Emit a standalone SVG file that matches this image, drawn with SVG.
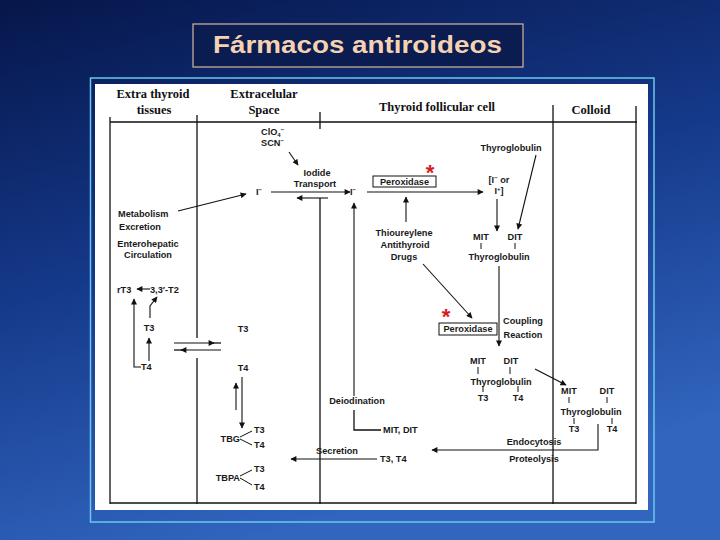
<svg xmlns="http://www.w3.org/2000/svg" width="720" height="540" viewBox="0 0 720 540">
<defs>
<linearGradient id="bg" x1="0" y1="0" x2="0.35" y2="1">
<stop offset="0" stop-color="#06164a"/>
<stop offset="0.5" stop-color="#15398a"/>
<stop offset="1" stop-color="#3165be"/>
</linearGradient>
<marker id="ah" viewBox="0 0 10 10" refX="9" refY="5" markerWidth="7" markerHeight="6" markerUnits="userSpaceOnUse" orient="auto">
<path d="M0,0 L10,5 L0,10 z" fill="#111"/>
</marker>
<style>
.s{font-family:"Liberation Sans",Arial,sans-serif;font-size:9.2px;font-weight:bold;fill:#1a1a1a}
.m{text-anchor:middle}
.h{font-family:"Liberation Serif","Times New Roman",serif;font-size:12.5px;font-weight:bold;fill:#111;text-anchor:middle}
.ln{stroke:#111;stroke-width:1.3;fill:none}
.ar{stroke:#111;stroke-width:1.1;fill:none;marker-end:url(#ah)}
.tk{stroke:#111;stroke-width:1;fill:none}
.st{font-family:"Liberation Sans",Arial,sans-serif;font-size:22px;font-weight:bold;fill:#d42020;text-anchor:middle}
.bx{fill:#fff;stroke:#111;stroke-width:1}
</style>
</defs>
<rect width="720" height="540" fill="url(#bg)"/>
<g id="title">
<rect x="193" y="24" width="330" height="43" fill="#0a1c50" stroke="#d6b69a" stroke-width="1.2"/>
<text x="213" y="53" font-family="Liberation Sans,Arial,sans-serif" font-size="24" font-weight="bold" fill="#f6d2b2" textLength="289" lengthAdjust="spacingAndGlyphs">Fármacos antiroideos</text>
</g>
<g id="panel">
<rect x="90.5" y="78" width="563.5" height="444" fill="none" stroke="#6cc6ee" stroke-width="1.5"/>
<rect x="95" y="84" width="553" height="426" fill="#ffffff"/>
</g>
<g id="connectors">
<path class="ln" d="M110 122 H637" stroke-width="2.6"/>
<path class="ln" d="M110 117 V504"/>
<path class="ln" d="M197 115 V338 M197 358 V504"/>
<path class="ln" d="M320 112 V129 M320 198 V504"/>
<path class="ln" d="M553 105 V504"/>
<path class="ln" d="M636 106 V504"/>
<path class="ln" d="M110 503 H636" stroke-width="1.6"/>
<path class="ar" d="M289 152 L298 165"/>
<path class="ar" d="M178 211 L246 194"/>
<path class="ar" d="M271 192 H350"/>
<path class="ar" d="M328 198 H297"/>
<path class="ar" d="M367 192 H483"/>
<path class="ar" d="M406 222 V197"/>
<path class="ar" d="M497 199 V231"/>
<path class="ar" d="M536 155 L518 229"/>
<path class="ar" d="M423 264 L472 318"/>
<path class="ar" d="M499 266 V346" stroke-width="1.6"/>
<path class="ar" d="M535 369 L566 385"/>
<path class="ar" d="M598 424 V450 H432"/>
<path class="ar" d="M377 459 H291"/>
<path class="ar" d="M354 396 V203"/>
<path class="ln" d="M354 410 V430 H381"/>
<path class="ar" d="M242 377 V428" stroke-width="1.6"/>
<path class="ar" d="M236 410 V383"/>
<path class="ar" d="M174 343 H214"/><path class="ln" d="M213 343 H221"/>
<path class="ar" d="M221 350 H181"/><path class="ln" d="M182 350 H174"/>
<path class="ar" d="M149 361 V338"/>
<path class="ar" d="M141 367 H134 V299"/>
<path class="ar" d="M150 318 V306 L157 297"/>
<path class="ar" d="M150 289 H137"/>
<path class="tk" d="M240 437 L252 431 M240 439 L252 445 M240 476 L252 470 M240 478 L252 485"/>
<path class="tk" d="M481 243 V249 M515 243 V249 M478 367 V374 M510 367 V374 M483 386 V392 M518 386 V392 M569 397 V403 M607 397 V403 M574 418 V424 M612 418 V424"/>
</g>
<g id="headers">
<text class="h" x="153" y="98">Extra thyroid</text>
<text class="h" x="154" y="114">tissues</text>
<text class="h" x="264" y="98">Extracelular</text>
<text class="h" x="264" y="114">Space</text>
<text class="h" x="437" y="111">Thyroid follicular cell</text>
<text class="h" x="591" y="114" font-size="13.5">Colloid</text>
</g>
<g id="iodide-transport">
<text class="s" x="261" y="135">ClO<tspan dy="2" font-size="6">4</tspan><tspan dy="-5" font-size="6">−</tspan></text>
<text class="s" x="261" y="146">SCN<tspan dy="-3" font-size="6">−</tspan></text>
<text class="s m" x="317" y="176">Iodide</text>
<text class="s m" x="315" y="187">Transport</text>
<text class="s" x="256" y="195">I<tspan dy="-3" font-size="6">−</tspan></text>
<text class="s" x="350" y="195">I<tspan dy="-3" font-size="6">−</tspan></text>
</g>
<g id="peroxidase1">
<rect class="bx" x="373" y="176" width="63" height="11"/>
<text class="s m" x="404.5" y="185">Peroxidase</text>
<text class="st" x="430" y="180">*</text>
</g>
<g id="iodine-ox">
<text class="s m" x="499" y="183">[I<tspan dy="-3" font-size="6">−</tspan><tspan dy="3"> or</tspan></text>
<text class="s m" x="499" y="194">I<tspan dy="-3" font-size="6">+</tspan><tspan dy="3">]</tspan></text>
<text class="s m" x="511" y="151">Thyroglobulin</text>
</g>
<g id="drugs">
<text class="s m" x="404" y="236">Thioureylene</text>
<text class="s m" x="405" y="248">Antithyroid</text>
<text class="s m" x="404" y="260">Drugs</text>
</g>
<g id="mit-dit-1">
<text class="s m" x="481" y="240">MIT</text>
<text class="s m" x="515" y="240">DIT</text>
<text class="s m" x="499" y="260">Thyroglobulin</text>
</g>
<g id="peroxidase2">
<rect class="bx" x="439" y="323" width="58" height="12"/>
<text class="s m" x="468" y="332">Peroxidase</text>
<text class="st" x="446" y="324">*</text>
<text class="s m" x="523" y="324">Coupling</text>
<text class="s m" x="523" y="338">Reaction</text>
</g>
<g id="mit-dit-2">
<text class="s m" x="478" y="364">MIT</text>
<text class="s m" x="511" y="364">DIT</text>
<text class="s m" x="501" y="385">Thyroglobulin</text>
<text class="s m" x="483" y="401">T3</text>
<text class="s m" x="518" y="401">T4</text>
</g>
<g id="colloid-tg">
<text class="s m" x="569" y="394">MIT</text>
<text class="s m" x="607" y="394">DIT</text>
<text class="s m" x="591" y="415">Thyroglobulin</text>
<text class="s m" x="574" y="432">T3</text>
<text class="s m" x="612" y="432">T4</text>
</g>
<g id="endocytosis">
<text class="s m" x="534" y="445">Endocytosis</text>
<text class="s m" x="534" y="462">Proteolysis</text>
</g>
<g id="deiodination">
<text class="s m" x="357" y="404">Deiodination</text>
<text class="s" x="383" y="433">MIT, DIT</text>
</g>
<g id="secretion">
<text class="s m" x="337" y="454">Secretion</text>
<text class="s" x="380" y="462">T3, T4</text>
</g>
<g id="plasma">
<text class="s m" x="243" y="332">T3</text>
<text class="s m" x="243" y="371">T4</text>
<text class="s" x="240" y="442" text-anchor="end">TBG</text>
<text class="s" x="254" y="433">T3</text>
<text class="s" x="254" y="448">T4</text>
<text class="s" x="240" y="481" text-anchor="end">TBPA</text>
<text class="s" x="254" y="472">T3</text>
<text class="s" x="254" y="490">T4</text>
</g>
<g id="tissues">
<text class="s" x="118" y="217">Metabolism</text>
<text class="s" x="119" y="230">Excretion</text>
<text class="s m" x="148" y="247">Enterohepatic</text>
<text class="s m" x="148" y="258">Circulation</text>
<text class="s" x="117" y="293">rT3</text>
<text class="s" x="150" y="293">3,3′-T2</text>
<text class="s m" x="149" y="331">T3</text>
<text class="s" x="141" y="370">T4</text>
</g>
</svg>
